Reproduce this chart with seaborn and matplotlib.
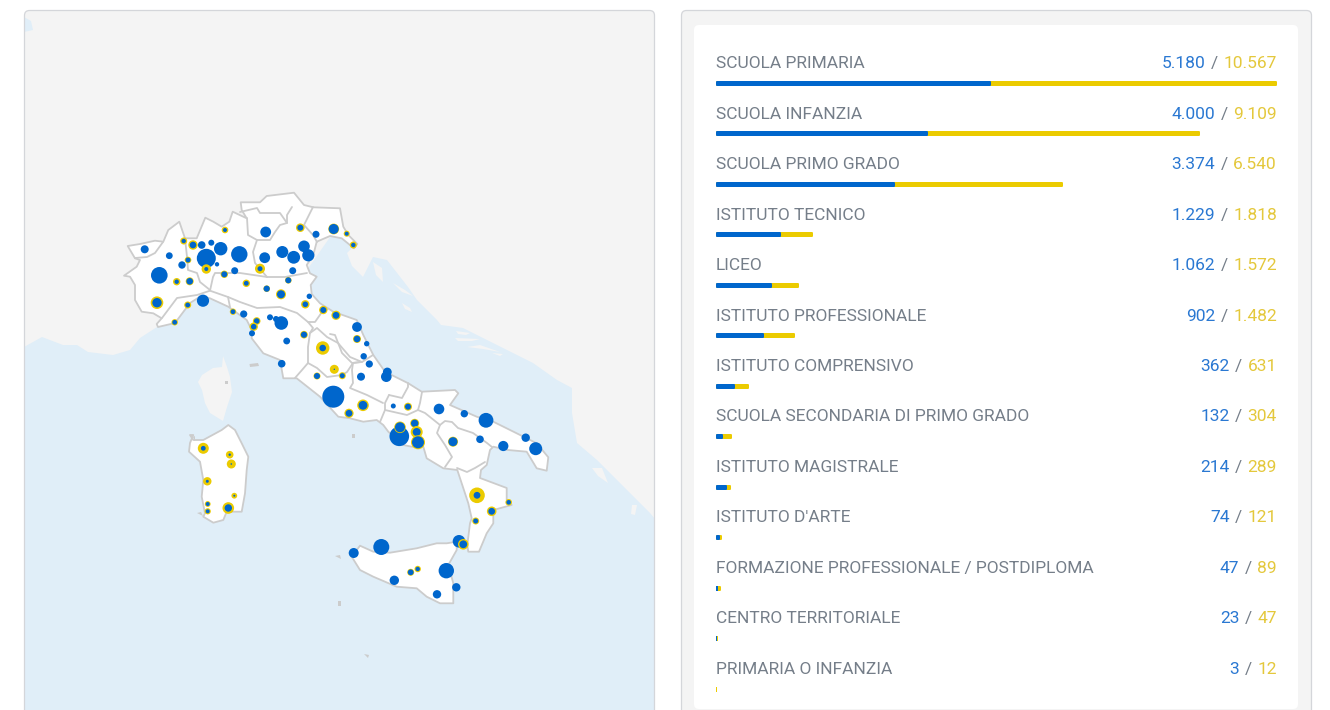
"""Italian schools map with bubbles, plus per-type progress bars."""
import matplotlib
matplotlib.use("Agg")
import matplotlib.pyplot as plt
from matplotlib.patches import FancyBboxPatch, Polygon
import pandas as pd
import seaborn as sns

BLUE = "#0066CC"
YELLOW = "#EBCB00"
TEXT_BLUE = "#2A78D2"
TEXT_YELLOW = "#E4C83C"
GREY = "#757E89"
BORDER = "#CCCCCC"
SEA = "#E0EEF8"
LAND = "#F4F4F4"

# bar panel values
school_types = [
    "SCUOLA PRIMARIA", "SCUOLA INFANZIA", "SCUOLA PRIMO GRADO", "ISTITUTO TECNICO",
    "LICEO", "ISTITUTO PROFESSIONALE", "ISTITUTO COMPRENSIVO",
    "SCUOLA SECONDARIA DI PRIMO GRADO", "ISTITUTO MAGISTRALE", "ISTITUTO D'ARTE",
    "FORMAZIONE PROFESSIONALE / POSTDIPLOMA", "CENTRO TERRITORIALE", "PRIMARIA O INFANZIA",
]
blue_values = [5180, 4000, 3374, 1229, 1062, 902, 362, 132, 214, 74, 47, 23, 3]
yellow_values = [10567, 9109, 6540, 1818, 1572, 1482, 631, 304, 289, 121, 89, 47, 12]
blue_labels = ["5.180", "4.000", "3.374", "1.229", "1.062", "902", "362", "132", "214", "74", "47", "23", "3"]
yellow_labels = ["10.567", "9.109", "6.540", "1.818", "1.572", "1.482", "631", "304", "289", "121", "89", "47", "12"]

# bubbles in drawing order: x, y, yellow radius, blue radius
bubble_x = [
    144.7, 169.3, 183.7, 193, 201.7, 211.3, 225, 220.7, 239.3, 206.3, 188, 182, 206.3, 217, 224.3,
    234.7, 260, 264.7, 282.3, 293.7, 304, 308.3, 265.7, 300.3, 316, 333.7, 346.7, 353.3, 292.7,
    288.3, 266.7, 246.3, 281, 159.3, 176.7, 189.7, 157, 203, 187.7, 174.7, 233, 243.7, 256.7,
    253.7, 252, 270, 276, 281.3, 309.3, 305.3, 323.3, 336, 357, 357, 366.7, 304, 286.7, 322.7,
    281.7, 334.3, 317, 342.3, 363.7, 369.3, 361, 387.3, 386.3, 333.3, 363, 349, 393.3, 408, 439,
    464.3, 486, 399.3, 400, 414.7, 416.7, 418, 453, 480, 503.3, 525.7, 535.7, 477, 508.7, 491.7,
    475.7, 459, 463.3, 381.3, 353.7, 446.3, 417.7, 410.7, 394.3, 456.3, 437, 203.3, 229.7,
    231.3, 207.3, 234.3, 207.7, 207.7, 228.3,
]
bubble_y = [
    249.3, 255.7, 241, 245, 245, 242.7, 230, 248.7, 254.3, 258.3, 260, 265, 269, 264.3, 274.3,
    270.7, 268.7, 257.7, 252, 257.3, 246.3, 255.3, 232, 227.7, 234.3, 229, 233.7, 245, 270.7,
    280.3, 288.7, 283.3, 294.3, 275.3, 281.7, 281.3, 302.7, 300.7, 305, 322.3, 311.7, 314, 321,
    326.7, 333.3, 317.3, 319, 323, 296.3, 304.3, 310, 315.3, 327, 339, 343.7, 334.7, 341, 348,
    363.7, 369.3, 376, 375.7, 356.3, 364, 376.7, 372, 376.7, 396.7, 405.3, 413.3, 406, 406.7, 409,
    413.7, 420.3, 436.3, 427.3, 423.3, 432, 442.3, 441.7, 439.3, 446, 437.7, 448.7, 495.3, 502.3,
    511.3, 521, 541.3, 544.3, 547, 553, 570.7, 569, 572.3, 580.3, 587.3, 594.3, 448.3, 454.7,
    464, 481.3, 495.7, 504, 511.3, 508,
]
bubble_outer = [
    4, 3.4, 3.5, 4.7, 3.8, 3, 3.3, 6.7, 8.2, 9.5, 3.3, 3.7, 4.7, 2.2, 3.7,
    3.5, 5, 5.4, 6, 6.4, 5.8, 6.1, 5.4, 4.3, 3.5, 5.4, 3, 3.5, 3.5,
    3.3, 3.3, 3.7, 5, 8.3, 3.7, 4, 6.3, 6.1, 3.5, 3.2, 3.2, 3.6, 3.8,
    4.2, 3, 3, 3, 6.8, 2.7, 4.2, 4.2, 4.6, 4.9, 4, 2.7, 3.8, 3.4, 6.7,
    3.8, 4.5, 3.5, 3.5, 3.2, 3.6, 4, 4.4, 5.3, 11, 5.8, 4.6, 2.5, 4, 5.3,
    3.7, 7.4, 9.8, 5.8, 4.5, 6, 7, 5, 3.8, 5.1, 4.2, 6.5, 7.8, 3.3, 4.8,
    3.5, 6.3, 5.3, 8, 5, 7.7, 3.2, 3.5, 4.7, 4.2, 4.2, 5.5, 3.8,
    4.5, 4.2, 2.9, 2.9, 3.1, 5.8,
]
bubble_inner = [
    4, 3.4, 2.2, 3.3, 3.8, 3, 2, 6.7, 8.2, 9.5, 2.5, 3.7, 2, 2.2, 3,
    3.5, 2.5, 5.4, 6, 6.4, 5.8, 6.1, 5.4, 3, 3.5, 5, 2, 2.2, 3.5,
    3, 3.1, 2.4, 4, 8.3, 2.2, 3.3, 4.7, 6.1, 2.4, 2.4, 2.4, 3.6, 2.8,
    2.8, 3, 3, 3, 6.8, 2.7, 2.8, 3, 3.4, 4.9, 3.3, 2.7, 3.1, 3.4, 3.3,
    3.8, 0.7, 3, 2.5, 3.2, 3.6, 4, 4.4, 5.3, 11, 4.4, 3.4, 2.5, 3, 5.3,
    3.7, 7.4, 9.8, 5, 3.7, 4, 6, 4.5, 3.8, 5.1, 4.2, 6.5, 3.4, 2.3, 3.4,
    2.5, 6.3, 3.9, 8, 5, 7.7, 2.2, 2.9, 4.7, 4.2, 4.2, 2.4, 1.2,
    0.8, 1.5, 1, 2, 2, 3.7,
]

# map outlines
sea_outline = [
    (24, 347), (42, 337), (63, 345), (77, 345), (88, 352), (113, 355), (130, 350), (140, 338), (157, 327),
    (175, 300), (300, 280), (335, 230), (353, 247), (347, 253), (352, 266), (363, 277), (373, 257), (387, 260),
    (408, 287), (417, 300), (437, 320), (441, 325), (463, 328), (507, 350), (533, 363), (557, 380), (572, 388),
    (572, 413), (577, 443), (597, 460), (620, 483), (650, 513), (660, 525), (660, 720), (24, 720),
]
corsica = [
    (223, 356), (227, 367), (230, 377), (232, 392), (227, 407), (223, 421), (210, 413), (205, 403),
    (202, 390), (198, 382), (202, 375), (213, 368), (222, 367),
]
adriatic_islands = [
    [(373, 262), (382, 268), (383, 282), (376, 275)],
    [(393, 283), (405, 290), (413, 296), (402, 292)],
    [(402, 303), (410, 308), (412, 312), (405, 309)],
    [(456, 331), (470, 333), (466, 335), (458, 334)],
    [(455, 338), (480, 339), (472, 341), (458, 341)],
    [(467, 347), (480, 345), (500, 352), (483, 349)],
    [(492, 353), (503, 354), (500, 356)],
    [(592, 468), (602, 468), (608, 483), (598, 476)],
    [(632, 505), (637, 505), (635, 515), (631, 514)],
    [(637, 497), (648, 497), (648, 501), (640, 501)],
]
top_left_sea = [(24, 17), (31, 21), (33, 30), (24, 32)]
mainland = [
    (127.7, 246), (140, 244), (155, 240.7), (163.3, 241.7), (168.3, 230), (179.3, 221.7), (185, 238.3),
    (196.7, 238.3), (205.3, 217.7), (213.3, 221.7), (221.7, 226.7), (229.3, 221.7), (232.7, 211.7), (246.7, 218.3),
    (241.7, 210), (240.7, 202.3), (260, 202.3), (266.7, 196), (294, 192.7), (304, 205), (313.3, 207.3), (340, 208.3),
    (343.3, 226.7), (348.3, 235), (357.3, 244), (354, 248.3), (341.7, 238.3), (330, 236), (316.7, 241.7), (313.3, 255),
    (306.7, 265), (310, 273.3), (316.7, 276.7), (310.7, 285), (311.7, 294), (320, 303.3), (333.3, 311.7), (356.7, 320),
    (363.3, 335), (373.3, 355), (385, 371.7), (408.3, 383.3), (421.7, 391.7), (455, 390), (458.3, 393.3), (450, 405),
    (476.7, 416.7), (493.3, 421.7), (516.7, 433.3), (536.7, 443.3), (548.3, 457.3), (546.7, 470.7), (536.7, 468.3),
    (526.7, 451.7), (508, 450), (493.3, 446.7), (490, 450), (486.7, 465), (481, 470), (480, 478), (506.7, 488),
    (506.7, 500), (511.7, 505), (493.3, 510), (493.3, 523.3), (486.7, 533.3), (479, 551.7), (468.3, 551.7), (467.3, 545),
    (470, 523.3), (471.7, 518.3), (468.3, 503.3), (461.7, 483.3), (457.3, 470), (443.3, 468.3), (426.7, 458.3),
    (423.3, 446.7), (411.7, 446.7), (403.3, 445), (388.3, 431.7), (383.3, 425), (376.7, 420), (363.3, 421.7), (350, 418.3),
    (338.3, 416.7), (320, 396.7), (296.7, 378.3), (283.3, 378.3), (280, 360), (263.3, 353.3), (251.7, 338.3), (251.7, 330),
    (246.7, 320), (228.3, 306.7), (210, 298.3), (200, 296.7), (190, 303), (184, 311), (175, 323), (158, 327),
    (156.7, 324), (161.7, 318.3), (153.3, 313.3), (141.7, 311.7), (135, 300), (135, 285), (130, 276.7), (124, 275.7),
    (136.7, 266.7), (140, 260), (135, 258.3),
]
sicily = [
    (351.7, 556.7), (360, 545.7), (373.3, 551.7), (390, 552.7), (416.7, 548.3), (436.7, 543.3), (446.7, 543.3),
    (456.7, 541.7), (456.7, 550), (448.3, 565), (453.3, 583.3), (453.3, 603.3), (440, 603.3), (426.7, 596.7),
    (416.7, 588.3), (396.7, 586.7), (373.3, 576.7), (360, 570),
]
sardinia = [
    (190, 435), (193.3, 435), (190, 443), (189, 451.7), (200, 461.7), (203.3, 480), (201.7, 496.7), (205, 513.3),
    (203.3, 516.7), (213.3, 522.7), (223.3, 520), (226.7, 511.7), (241.7, 511.7), (245, 493.3), (246.7, 470),
    (248.3, 456.7), (241.7, 443.3), (235, 430), (228.3, 425), (221.7, 430), (203.3, 440), (193.3, 440),
]
region_borders = [
    [(135, 258), (147, 257), (155, 253), (163, 242)],
    [(185, 238), (187, 257), (188, 270), (197, 273), (200, 282), (210, 290)],
    [(162, 318), (177, 298), (197, 295), (210, 290.7), (228, 297), (230, 307)],
    [(210, 290.7), (213, 277), (215, 273), (240, 273), (267, 277), (285, 277), (307, 273)],
    [(228, 297), (240, 302), (257, 308), (280, 307), (297, 313), (308, 322), (315, 322), (322, 312), (327, 309)],
    [(247, 218), (248, 235), (257, 240), (253, 252), (255, 263), (267, 277)],
    [(240, 212), (257, 208), (260, 213), (280, 213), (287, 223), (280, 225), (275, 232), (270, 240), (257, 240)],
    [(292, 207), (287, 215), (287, 223)],
    [(313, 207), (304, 225), (313, 235), (317, 242)],
    [(308, 322), (313, 328), (310, 333), (308, 347), (308, 363), (302, 370), (295, 378)],
    [(310, 333), (317, 328), (327, 337), (338, 343), (350, 357), (362, 362), (373, 355)],
    [(308, 363), (317, 368), (327, 377), (342, 375), (347, 372), (353, 363), (362, 362)],
    [(330, 334), (335, 335), (342, 353), (352, 363), (360, 362)],
    [(353, 363), (352, 370), (353, 383), (350, 388), (367, 395), (383, 403)],
    [(389, 395), (402, 398), (408, 387), (408, 383)],
    [(389, 395), (385, 403), (385, 410), (407, 415), (418, 410), (420, 403), (422, 392)],
    [(385, 410), (380, 422)],
    [(418, 410), (425, 413), (440, 425), (445, 421), (452, 422), (458, 428), (473, 433), (487, 443), (492, 447)],
    [(440, 425), (437, 433), (445, 445), (452, 457), (445, 467)],
    [(457, 468), (467, 472), (475, 468), (485, 462)],
]
tiny_islands = [
    [(249.5, 364), (258, 363), (259, 366), (250, 367)],
    [(225, 381), (228, 381), (228, 384), (225, 384)],
    [(352, 434), (355, 434), (355, 438), (352, 438)],
    [(338, 601), (341, 601), (341, 606), (338, 606)],
    [(364, 654), (369, 655), (368, 658)],
    [(335, 556), (340, 555), (341, 559)],
    [(197, 513), (201, 512), (203, 516)],
    [(193, 437), (195, 436), (195, 441)],
]

sns.set_theme(style="white")
plt.rcParams["font.family"] = ["Roboto", "DejaVu Sans"]
fig = plt.figure(figsize=(13.3, 7.1), dpi=100, facecolor="white")

# the whole figure as one pixel-scaled axes for the cards and the map
ax = fig.add_axes([0, 0, 1, 1])
ax.set_xlim(0, 1330)
ax.set_ylim(710, 0)
ax.axis("off")

map_card = FancyBboxPatch((24.5, 10.5), 630, 730, boxstyle="round,pad=0,rounding_size=5",
                          fc=LAND, ec="none", zorder=0)
ax.add_patch(map_card)
for shape in [sea_outline, top_left_sea]:
    sea = Polygon(shape, fc=SEA, ec="none", zorder=1)
    ax.add_patch(sea)
    sea.set_clip_path(map_card)
for shape in [corsica] + adriatic_islands:
    ax.add_patch(Polygon(shape, fc=LAND, ec="none", zorder=2))
ax.add_patch(FancyBboxPatch((24.5, 10.5), 630, 730, boxstyle="round,pad=0,rounding_size=5",
                            fc="none", ec="#D4D6DA", lw=0.9, zorder=3))

for shape in [mainland, sicily, sardinia]:
    ax.add_patch(Polygon(shape, fc="white", ec=BORDER, lw=1.3, joinstyle="round", zorder=4))
for line in region_borders:
    ax.plot([p[0] for p in line], [p[1] for p in line], color=BORDER, lw=1.3, zorder=5,
            solid_joinstyle="round", solid_capstyle="round")
for shape in tiny_islands:
    ax.add_patch(Polygon(shape, fc=BORDER, ec="none", zorder=4))

ax.add_patch(FancyBboxPatch((681.5, 10.5), 630, 730, boxstyle="round,pad=0,rounding_size=5",
                            fc=LAND, ec="#D4D6DA", lw=0.9, zorder=0))
ax.add_patch(FancyBboxPatch((694, 25), 604, 684, boxstyle="round,pad=0,rounding_size=5",
                            fc="white", ec="none", zorder=1))

# two rows per bubble, yellow then blue, so later bubbles can sit over earlier ones
rows = []
for bx, by, outer, inner in zip(bubble_x, bubble_y, bubble_outer, bubble_inner):
    if outer > inner:
        rows.append({"x": bx, "y": by, "r2": outer ** 2, "kind": "yellow"})
    rows.append({"x": bx, "y": by, "r2": inner ** 2, "kind": "blue"})
bubbles = pd.DataFrame(rows)
# px radius squared to scatter area in pt^2
area = (2 * 72 / fig.dpi) ** 2
r2_min, r2_max = bubbles["r2"].min(), bubbles["r2"].max()
sns.scatterplot(data=bubbles, x="x", y="y", hue="kind", size="r2", ax=ax,
                palette={"yellow": YELLOW, "blue": BLUE},
                sizes=(r2_min * area, r2_max * area), size_norm=(r2_min, r2_max),
                linewidth=0, legend=False, zorder=6)
ax.set_xlim(0, 1330)
ax.set_ylim(710, 0)
ax.axis("off")

# bars: first bar centre at y=83.5 px, then every 50.46 px
W, H = 1330, 710
row_step = 50.46
ax_bar = fig.add_axes([716 / W, 0, (1277 - 716) / W, (710 - 58.27) / H])
ax_bar.patch.set_alpha(0)
sns.barplot(x=yellow_values, y=school_types, color=YELLOW, saturation=1, width=3 / row_step, ax=ax_bar, zorder=2)
sns.barplot(x=blue_values, y=school_types, color=BLUE, saturation=1, width=3 / row_step, ax=ax_bar, zorder=3)
ax_bar.set_xlim(0, yellow_values[0])
ax_bar.set_ylim((710 - 83.5) / row_step, -0.5)
ax_bar.axis("off")

# round the bar ends with a thick round-joined edge, inset so the length stays true
px_x = yellow_values[0] / (1277 - 716)
px_y = 1 / row_step
for bar in ax_bar.patches:
    if bar.get_width() > 3 * px_x:
        bar.set_x(bar.get_x() + px_x)
        bar.set_width(bar.get_width() - 2 * px_x)
        bar.set_edgecolor(bar.get_facecolor())
        bar.set_linewidth(1.44)
        bar.set_joinstyle("round")
    else:
        bar.set_y(bar.get_y() - px_y)
        bar.set_height(bar.get_height() + 2 * px_y)
        bar.set_linewidth(0)

font_size = 12.5
text_kw = dict(textcoords="offset points", fontsize=font_size, va="baseline")
fig.canvas.draw()
renderer = fig.canvas.get_renderer()
for i, name in enumerate(school_types):
    ax_bar.annotate(name, xy=(0, i), xytext=(0, 11), color=GREY, ha="left", annotation_clip=False, **text_kw)
    # numbers right-aligned, built from right to left
    offset = 0
    for part, colour in [(yellow_labels[i], TEXT_YELLOW), ("/", GREY), (blue_labels[i], TEXT_BLUE)]:
        t = ax_bar.annotate(part, xy=(1, i), xycoords=ax_bar.get_yaxis_transform(), xytext=(offset, 11),
                            color=colour, ha="right", annotation_clip=False, **text_kw)
        offset -= t.get_window_extent(renderer).width * 72 / fig.dpi + 4

fig.savefig("out.png", dpi=100)
